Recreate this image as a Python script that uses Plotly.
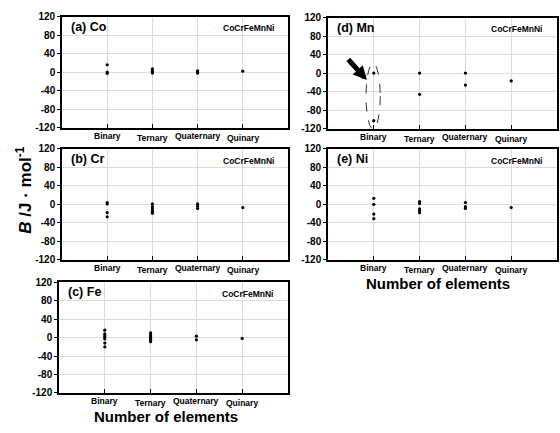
import plotly.graph_objects as go

# ---------------- data ----------------
categories = ["Binary", "Ternary", "Quaternary", "Quinary"]
y_ticks = [-120, -80, -40, 0, 40, 80, 120]
alloy = "CoCrFeMnNi"
panel_labels = ["(a) Co", "(b) Cr", "(c) Fe", "(d) Mn", "(e) Ni"]

# values per category (Binary, Ternary, Quaternary, Quinary), J/mol
co_values = [[16, 0, -3], [7, 2, -2], [3, 1, -1, -2], [2]]
cr_values = [[4, 1, -18, -27], [1, -5, -10, -15, -19], [1, -4, -9], [-7]]
fe_values = [[16, 8, 4, 1, -3, -12, -20], [10, 6, 2, -2, -6, -9], [3, -5], [-2]]
mn_values = [[0, -103], [0, -46], [0, -26], [-17]]
ni_values = [[13, 0, -21, -31], [6, 2, -10, -14, -18], [4, -5, -9], [-7]]

panel_data = [co_values, cr_values, fe_values, mn_values, ni_values]

# ---------------- layout geometry (pixels) ----------------
W, H = 560, 433
FONT = "Liberation Sans, Arial, sans-serif"
boxes = [
    (62, 288, 11, 125),   # (a)
    (62, 288, 147, 261),  # (b)
    (59, 288, 284, 398),  # (c)
    (328, 557, 12, 126),  # (d)
    (328, 557, 147, 261), # (e)
]

fig = go.Figure()
layout = dict(
    width=W, height=H,
    margin=dict(l=0, r=0, t=0, b=0),
    paper_bgcolor="white", plot_bgcolor="white",
    showlegend=False,
    font=dict(family=FONT, color="black"),
)
annotations = []
shapes = []

for i, (vals, label, box) in enumerate(zip(panel_data, panel_labels, boxes), start=1):
    x0, x1, y0, y1 = box
    xa = "xaxis" if i == 1 else f"xaxis{i}"
    ya = "yaxis" if i == 1 else f"yaxis{i}"
    xr = "x" if i == 1 else f"x{i}"
    yr = "y" if i == 1 else f"y{i}"
    layout[xa] = dict(
        domain=[x0 / W, x1 / W], anchor=yr, range=[0, 5],
        tickvals=[1, 2, 3, 4], showticklabels=False,
        ticks="inside", ticklen=4, tickwidth=1.3, tickcolor="black",
        showgrid=True, gridcolor="#dcdcdc", gridwidth=1,
        showline=True, linecolor="black", linewidth=1.6, mirror=True,
        zeroline=False, fixedrange=True,
    )
    layout[ya] = dict(
        domain=[1 - y1 / H, 1 - y0 / H], anchor=xr, range=[-120, 120],
        tickvals=y_ticks, ticktext=[str(v) for v in y_ticks],
        ticks="outside", ticklen=3, tickwidth=1, tickcolor="black",
        tickfont=dict(family=FONT, size=10, color="black", weight="bold"),
        showgrid=True, gridcolor="#dcdcdc", gridwidth=1,
        showline=True, linecolor="black", linewidth=1.6, mirror=True,
        zeroline=False, fixedrange=True,
    )
    for j, cat_vals in enumerate(vals):
        fig.add_trace(go.Scatter(
            x=[j + 1] * len(cat_vals), y=cat_vals, mode="markers",
            marker=dict(color="black", size=3.2),
            xaxis=xr, yaxis=yr, hoverinfo="skip",
        ))
    for j, cat in enumerate(categories):
        annotations.append(dict(
            text=f"<b>{cat}</b>", xref=xr, yref=f"{yr} domain",
            x=j + 1, y=0, xanchor="center", yanchor="top",
            yshift=-1 if j % 2 == 0 else -3, showarrow=False,
            font=dict(family=FONT, size=8.5, color="black"),
        ))
    annotations.append(dict(
        text=f"<b>{label}</b>", xref=f"{xr} domain", yref=f"{yr} domain",
        x=0.03, y=0.91, xanchor="left", yanchor="middle", showarrow=False,
        font=dict(family=FONT, size=12.5, color="black"),
    ))
    annotations.append(dict(
        text=f"<b>{alloy}</b>", xref=f"{xr} domain", yref=f"{yr} domain",
        x=0.945, y=0.895, xanchor="right", yanchor="middle", showarrow=False,
        font=dict(family=FONT, size=8.5, color="black"),
    ))

# x axis titles
for cx, cy in [(166, 422), (438, 285)]:
    annotations.append(dict(
        text="<b>Number of elements</b>", xref="paper", yref="paper",
        x=cx / W, y=1 - cy / H, xanchor="center", yanchor="middle",
        showarrow=False, font=dict(family=FONT, size=15, color="black"),
    ))

# y axis title
annotations.append(dict(
    text="<b><i>B</i> /J · mol<sup>-1</sup></b>", xref="paper", yref="paper",
    x=24 / W, y=1 - 190 / H, xanchor="center", yanchor="middle",
    textangle=-90, showarrow=False,
    font=dict(family=FONT, size=17, color="black"),
))

# arrow in panel (d)
annotations.append(dict(
    text="", xref="x4", yref="y4", x=0.85, y=-15,
    ax=-20, ay=-22, showarrow=True, arrowhead=2, arrowsize=0.55,
    arrowwidth=5, arrowcolor="black",
))
# dashed ellipse around binary Mn values
shapes.append(dict(
    type="circle", xref="x4", yref="y4", x0=0.83, x1=1.14, y0=-121, y1=21,
    line=dict(color="#333333", width=1, dash="dash"),
))

layout["annotations"] = annotations
layout["shapes"] = shapes
fig.update_layout(**layout)
fig.write_html(
    "out.html",
    config={"displayModeBar": False},
    post_script="document.body.style.margin='0';document.body.style.overflow='hidden';",
)
